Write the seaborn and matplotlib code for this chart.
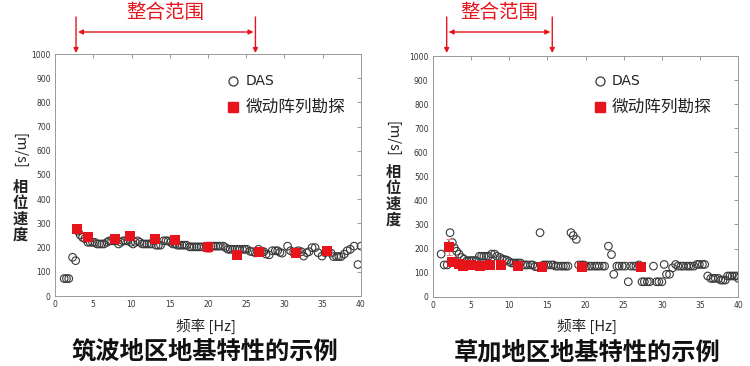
import numpy as np
import pandas as pd
import matplotlib
matplotlib.use("Agg")
import matplotlib.pyplot as plt
import seaborn as sns

# ---------------- data ----------------
# Left panel (Tsukuba) DAS points
das_left_f = [1.2, 1.5, 1.8, 2.3, 2.7, 3.0, 3.3, 3.6, 3.9, 4.3, 4.6, 4.9, 5.2, 5.5, 5.8, 6.1, 6.4,
              6.8, 7.1, 7.4, 7.7, 8.0, 8.3, 8.6, 8.9, 9.2, 9.5, 9.9, 10.2, 10.5, 10.8, 11.1, 11.4,
              11.7, 12.0, 12.3, 12.6, 12.9, 13.2, 13.5, 13.8, 14.2, 14.5, 14.8, 15.1, 15.4, 15.7,
              16.0, 16.3, 16.6, 16.9, 17.2, 17.6, 17.9, 18.2, 18.5, 18.8, 19.1, 19.5, 19.8, 20.1,
              20.4, 20.7, 21.0, 21.3, 21.6, 22.0, 22.3, 22.6, 22.9, 23.2, 23.5, 23.8, 24.1, 24.5,
              24.8, 25.1, 25.5, 25.8, 26.2, 26.6, 27.0, 27.3, 27.6, 28.0, 28.4, 28.8, 29.1, 29.4,
              29.7, 30.4, 30.8, 31.2, 31.5, 31.8, 32.2, 32.5, 32.9, 33.2, 33.6, 34.0, 34.4, 34.9,
              35.3, 35.7, 36.1, 36.4, 36.8, 37.1, 37.4, 37.8, 38.2, 38.6, 39.1, 39.6, 40.0]
das_left_v = [72, 72, 72, 160, 146, 268, 252, 242, 237, 222, 222, 222, 222, 215, 215, 215, 215,
              222, 228, 228, 228, 228, 215, 222, 228, 228, 228, 222, 215, 222, 228, 222, 215,
              215, 215, 215, 215, 228, 210, 210, 210, 228, 228, 228, 222, 215, 215,
              210, 210, 210, 210, 210, 203, 203, 203, 203, 203, 203, 203, 206, 206,
              206, 206, 206, 206, 206, 206, 200, 193, 193, 193, 193, 193, 193, 193,
              193, 193, 185, 183, 178, 193, 185, 183, 173, 170, 187, 187, 187, 180,
              177, 206, 187, 179, 183, 187, 183, 165, 179, 183, 200, 200, 179, 165,
              179, 187, 177, 163, 163, 163, 163, 173, 187, 193, 206, 130, 206]

# Left panel microtremor array points
mt_left_f = [2.84, 4.28, 7.85, 9.86, 13.05, 15.7, 19.94, 23.8, 26.7, 31.5, 35.6]
mt_left_v = [276, 245, 234, 250, 236, 232, 202, 169, 181, 176, 184]
mt_left_err = [6, 6, 6, 6, 5, 5, 20, 8, 8, 6, 6]

# Right panel (Soka) DAS points
das_right_f = [1.1, 1.5, 1.9, 2.27, 2.57, 2.83, 3.13, 3.44, 3.79, 4.1, 4.45, 4.8, 5.1, 5.4, 5.7,
               6.1, 6.4, 6.7, 7.0, 7.3, 7.7, 8.1, 8.4, 8.8, 9.1, 9.4, 9.7, 10.0, 10.3, 10.6, 10.9,
               11.2, 11.5, 11.8, 12.1, 12.4, 12.8, 13.1, 13.4, 13.7, 14.05, 14.5, 14.8, 15.1, 15.5,
               15.8, 16.1, 16.4, 16.8, 17.1, 17.4, 17.7, 18.1, 18.4, 18.8, 19.1, 19.5, 19.8, 20.1,
               20.5, 20.8, 21.2, 21.5, 21.8, 22.2, 22.5, 23.0, 23.4, 23.7, 24.1, 24.4, 24.8, 25.2,
               25.6, 25.9, 26.3, 26.6, 27.0, 27.4, 27.7, 28.1, 28.4, 28.9, 29.3, 29.6, 30.0, 30.3,
               30.6, 31.0, 31.4, 31.8, 32.1, 32.5, 32.8, 33.2, 33.5, 33.8, 34.2, 34.6, 34.9, 35.3,
               35.6, 36.0, 36.4, 36.7, 37.0, 37.4, 37.7, 38.0, 38.3, 38.6, 38.9, 39.2, 39.5, 39.8,
               40.0]
das_right_v = [177, 132, 132, 266, 225, 203, 189, 177, 163, 156, 149, 150, 150, 150, 150,
               168, 168, 168, 168, 168, 177, 177, 168, 163, 157, 154, 152, 146, 140, 140, 140,
               140, 140, 132, 132, 132, 132, 132, 125, 125, 266, 132, 132, 132, 132,
               132, 127, 127, 127, 127, 127, 127, 266, 254, 238, 132, 132, 132, 127,
               127, 127, 127, 127, 127, 127, 127, 210, 175, 93, 127, 127, 127, 127,
               62, 127, 127, 127, 132, 62, 62, 62, 62, 127, 62, 62, 62, 134,
               93, 93, 120, 134, 127, 127, 127, 127, 127, 127, 127, 134, 134, 134,
               134, 86, 76, 76, 76, 76, 69, 69, 69, 86, 86, 86, 86, 86,
               76]

# Right panel microtremor array points
mt_right_f = [2.09, 2.57, 3.4, 4.0, 4.93, 6.15, 7.5, 9.0, 11.2, 14.3, 19.6, 27.2]
mt_right_v = [207, 143, 134, 127, 130, 127, 132, 132, 127, 122, 123, 124]
mt_right_err = [33, 6, 6, 6, 6, 10, 6, 8, 10, 6, 6, 6]

# fitting ranges (Hz)
fit_left = [2.75, 26.2]
fit_right = [1.83, 15.65]

x_ticks = [0, 5, 10, 15, 20, 25, 30, 35, 40]
y_ticks = [0, 100, 200, 300, 400, 500, 600, 700, 800, 900, 1000]

fit_label = "整合范围"
legend_das = "DAS"
legend_mt = "微动阵列勘探"
xlabel = "频率 [Hz]"
ylabel_unit = "[m/s]"
ylabel_text = "相位速度"
title_left = "筑波地区地基特性的示例"
title_right = "草加地区地基特性的示例"

# ---------------- style ----------------
sns.set_theme(style="white")
plt.rcParams['font.family'] = ['Noto Sans CJK SC', 'DejaVu Sans']
RED = "#e8141b"
CJK = ['Noto Sans CJK SC', 'DejaVu Sans']

W, H = 750, 366
fig = plt.figure(figsize=(W / 100, H / 100), dpi=100)
fig.patch.set_facecolor("white")


def px_rect(x0, y0, x1, y1):
    return [x0 / W, 1 - y1 / H, (x1 - x0) / W, (y1 - y0) / H]


panels = [
    dict(rect=px_rect(55, 54, 361, 296), das_f=das_left_f, das_v=das_left_v,
         mt_f=mt_left_f, mt_v=mt_left_v, mt_e=mt_left_err, fit=fit_left,
         leg=(0.582, 0.888, 0.781, 0.622), ylab_x=20, unit_y=151, chars_y0=187, chars_dy=16,
         xlab=(206, 326), title=(205, 352), title_txt=title_left),
    dict(rect=px_rect(432.7, 56, 738.3, 296.7), das_f=das_right_f, das_v=das_right_v,
         mt_f=mt_right_f, mt_v=mt_right_v, mt_e=mt_right_err, fit=fit_right,
         leg=(0.547, 0.896, 0.788, 0.587), ylab_x=393, unit_y=139, chars_y0=172, chars_dy=16,
         xlab=(587, 326), title=(587, 352), title_txt=title_right),
]

for p in panels:
    ax = fig.add_axes(p["rect"])
    das_df = pd.DataFrame({"f": p["das_f"], "v": p["das_v"]})
    mt_df = pd.DataFrame({"f": p["mt_f"], "v": p["mt_v"], "e": p["mt_e"]})

    sns.scatterplot(data=das_df, x="f", y="v", ax=ax, marker="o", s=30,
                    fc="none", ec="#3a3a3a", linewidth=0.8, zorder=3, legend=False)
    ax.errorbar(mt_df["f"], mt_df["v"], yerr=mt_df["e"], fmt="none",
                ecolor="#f08080", elinewidth=0.9, capsize=2, capthick=0.8, zorder=4)
    sns.scatterplot(data=mt_df, x="f", y="v", ax=ax, marker="s", s=42,
                    color=RED, linewidth=0, zorder=5, legend=False)

    ax.set_xlim(0, 40)
    ax.set_ylim(0, 1000)
    ax.set_xticks(x_ticks)
    ax.set_yticks(y_ticks)
    ax.set_xlabel("")
    ax.set_ylabel("")
    ax.tick_params(axis="both", which="both", direction="in", top=True, right=True,
                   length=3, width=0.6, color="#888888", labelsize=5.5,
                   labelcolor="#333333", pad=3)
    for lab in ax.get_xticklabels() + ax.get_yticklabels():
        lab.set_fontfamily("DejaVu Sans")
    for sp in ax.spines.values():
        sp.set_color("#999999")
        sp.set_linewidth(0.7)

    # legend (manual)
    lx, ly1, ly2, tx = p["leg"]
    ax.plot([lx], [ly1], transform=ax.transAxes, marker="o", ms=6.5, mfc="none",
            mec="#3a3a3a", mew=0.9, ls="none", clip_on=False)
    ax.plot([lx], [ly2], transform=ax.transAxes, marker="s", ms=6.5, mfc=RED,
            mec=RED, ls="none", clip_on=False)
    ax.text(tx, ly1, legend_das, transform=ax.transAxes, fontsize=10, va="center",
            ha="left", color="#222222", family="DejaVu Sans")
    ax.text(tx, ly2, legend_mt, transform=ax.transAxes, fontsize=12, va="center",
            ha="left", color="#222222", family=CJK)

    # fitting range arrows
    f0, f1 = p["fit"]
    for f in (f0, f1):
        ax.annotate("", xy=(f, H - 53), xytext=(f, H - 17),
                    xycoords=("data", "figure pixels"), textcoords=("data", "figure pixels"),
                    arrowprops=dict(arrowstyle="-|>", color=RED, lw=1.0, mutation_scale=7,
                                    shrinkA=0, shrinkB=0), annotation_clip=False)
    ax.annotate("", xy=(f0 + 0.25, H - 32), xytext=(f1 - 0.25, H - 32),
                xycoords=("data", "figure pixels"), textcoords=("data", "figure pixels"),
                arrowprops=dict(arrowstyle="<|-|>", color=RED, lw=1.0, mutation_scale=7,
                                shrinkA=0, shrinkB=0), annotation_clip=False)
    ax.annotate(fit_label, xy=((f0 + f1) / 2, H - 12), xycoords=("data", "figure pixels"),
                ha="center", va="center", fontsize=14, color=RED, family=CJK,
                annotation_clip=False)

    # y label: rotated unit + stacked characters
    fig.text(p["ylab_x"] / W, 1 - p["unit_y"] / H, ylabel_unit, rotation=-90,
             ha="center", va="center", fontsize=10.5, color="#222222", family=CJK)
    for i, ch in enumerate(ylabel_text):
        fig.text(p["ylab_x"] / W, 1 - (p["chars_y0"] + i * p["chars_dy"]) / H, ch,
                 ha="center", va="center", fontsize=11, fontweight="bold",
                 color="#222222", family=CJK)

    # x label and title
    fig.text(p["xlab"][0] / W, 1 - p["xlab"][1] / H, xlabel, ha="center", va="center",
             fontsize=10.5, color="#222222", family=CJK)
    fig.text(p["title"][0] / W, 1 - p["title"][1] / H, p["title_txt"], ha="center",
             va="center", fontsize=17.5, fontweight="bold", color="#111111", family=CJK)

fig.savefig("out.png", dpi=100, facecolor="white")
